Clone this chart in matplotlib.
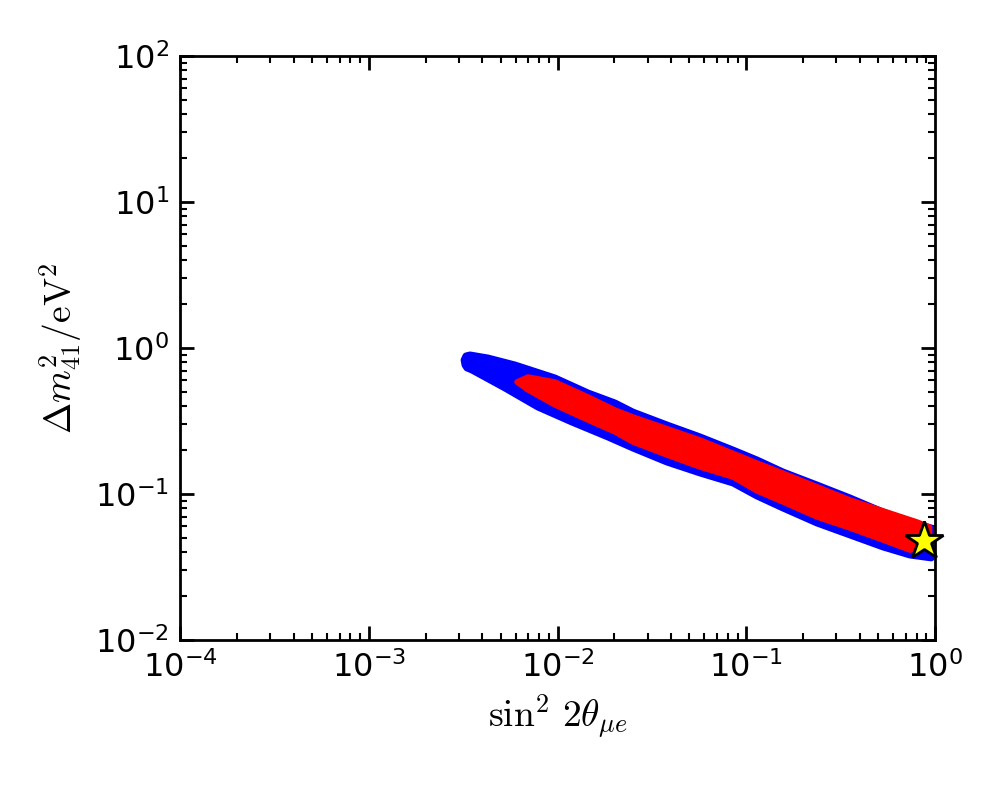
import matplotlib
matplotlib.use("Agg")
import matplotlib.pyplot as plt
from matplotlib.patches import Polygon
from matplotlib.ticker import LogLocator, NullFormatter
import numpy as np

plt.rcParams['mathtext.fontset'] = 'cm'

# Boundary of the blue (outer) allowed region: sin^2 2theta, dm^2
blue_x = [0.00320, 0.003275, 0.00344, 0.00428, 0.00595, 0.00970, 0.01451, 0.02017, 0.0251,
          0.0380, 0.0569, 0.0851, 0.1140, 0.1565, 0.237, 0.3546, 0.530, 0.737, 0.955,
          0.955, 0.737, 0.530, 0.3546, 0.237, 0.1565, 0.114, 0.0851, 0.0569, 0.0380,
          0.0251, 0.01851, 0.01193, 0.00788, 0.00527, 0.00352, 0.003314, 0.003236]
blue_y = [0.827, 0.882, 0.896, 0.854, 0.765, 0.623, 0.492, 0.420, 0.364,
          0.297, 0.246, 0.200, 0.171, 0.1415, 0.1152, 0.0939, 0.0753, 0.0643, 0.0585,
          0.0365, 0.0382, 0.0434, 0.0524, 0.0633, 0.0802, 0.0969, 0.119, 0.1393, 0.1656,
          0.2065, 0.2457, 0.311, 0.394, 0.532, 0.707, 0.730, 0.765]

# Boundary of the red (inner) allowed region
red_x = [0.0061, 0.00698, 0.0097, 0.01451, 0.02017, 0.0251, 0.0569, 0.114, 0.1565,
         0.3546, 0.803, 0.935, 0.935, 0.737, 0.530, 0.3546, 0.237, 0.1565, 0.114,
         0.0851, 0.0569, 0.038, 0.0251, 0.02017, 0.01451, 0.0097, 0.00698]
red_y = [0.585, 0.633, 0.585, 0.462, 0.376, 0.337, 0.2344, 0.163, 0.139,
         0.091, 0.0643, 0.0594, 0.0448, 0.0413, 0.0484, 0.0585, 0.0696, 0.0882, 0.105,
         0.1307, 0.153, 0.185, 0.227, 0.266, 0.321, 0.407, 0.516]

# Best-fit point
star_x = [0.87]
star_y = [0.048]

fig = plt.figure(figsize=(10, 8), dpi=100)
ax = fig.add_axes([0.18, 0.2, 0.755, 0.73])
ax.set_xscale('log')
ax.set_yscale('log')
ax.set_xlim(1e-4, 1)
ax.set_ylim(1e-2, 1e2)

ax.add_patch(Polygon(np.column_stack([blue_x, blue_y]), closed=True,
                     facecolor='blue', edgecolor='blue', lw=5, joinstyle='round', zorder=2))
ax.add_patch(Polygon(np.column_stack([red_x, red_y]), closed=True,
                     facecolor='red', edgecolor='red', lw=4, joinstyle='round', zorder=3))
ax.plot(star_x, star_y, marker='*', ms=29, mfc='yellow', mec='black', mew=2,
        ls='none', zorder=5, clip_on=False)

for s in ax.spines.values():
    s.set_linewidth(2)
ax.tick_params(which='both', direction='in', top=True, right=True, labelsize=23)
ax.tick_params(which='major', length=10, width=2, pad=8)
ax.tick_params(which='minor', length=5, width=1.5)
ax.xaxis.set_minor_locator(LogLocator(base=10, subs=np.arange(2, 10), numticks=20))
ax.yaxis.set_minor_locator(LogLocator(base=10, subs=np.arange(2, 10), numticks=20))
ax.xaxis.set_minor_formatter(NullFormatter())
ax.yaxis.set_minor_formatter(NullFormatter())

ax.set_xlabel(r'$\sin^2\,2\theta_{\mu e}$', fontsize=27, labelpad=6)
ax.set_ylabel(r'$\Delta m_{41}^2/\mathrm{eV}^2$', fontsize=27, labelpad=8)

fig.savefig('out.png', dpi=100)
